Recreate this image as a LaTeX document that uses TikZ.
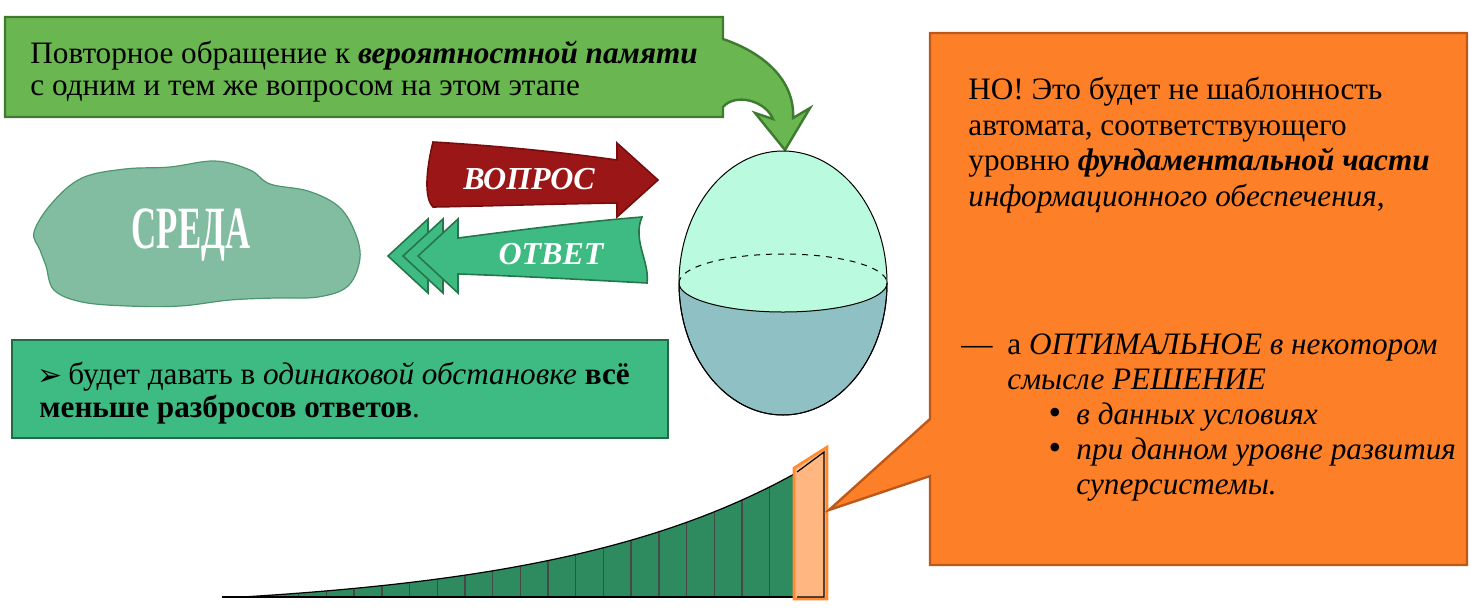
\documentclass[tikz,border=0pt]{standalone}
\usepackage{fontspec}
\setmainfont{Liberation Serif}
\newfontfamily\dingfont{DejaVu Sans}
\usetikzlibrary{positioning}
\definecolor{callgreen}{RGB}{106,182,80}
\definecolor{callgreenD}{RGB}{62,122,48}
\definecolor{askred}{RGB}{155,22,22}
\definecolor{askredD}{RGB}{118,14,14}
\definecolor{ansgreen}{RGB}{62,187,130}
\definecolor{ansgreenD}{RGB}{38,118,74}
\definecolor{cloudgreen}{RGB}{130,189,162}
\definecolor{cloudgreenD}{RGB}{78,150,110}
\definecolor{eggtop}{RGB}{186,251,224}
\definecolor{eggbot}{RGB}{143,193,196}
\definecolor{barsgreen}{RGB}{46,139,95}
\definecolor{barline}{RGB}{72,72,72}
\definecolor{noteorange}{RGB}{253,128,40}
\definecolor{noteorangeD}{RGB}{190,88,24}
\definecolor{barorange}{RGB}{255,182,128}
\definecolor{barorangeD}{RGB}{255,138,50}
\begin{document}
\begin{tikzpicture}[x=0.5pt,y=-0.5pt,
  txt/.style={anchor=base west,inner sep=0pt,font=\fontsize{15.6}{18}\selectfont},
  lbl/.style={anchor=base,inner sep=0pt,text=white,font=\fontsize{16}{16}\selectfont\bfseries\itshape},
  dot/.style={anchor=center,inner sep=0pt,font=\fontsize{18}{18}\selectfont},
  panel/.style={line width=1.2pt,line join=miter}]
\useasboundingbox (0,0) rectangle (1471,612);

\filldraw[panel,fill=callgreen,draw=callgreenD] (5,17) -- (723,17) -- (723,39)
  .. controls (770,55) and (795,85) .. (793,118) -- (810,108) -- (785,150) -- (755,113) -- (773,119)
  .. controls (765,100) and (735,93) .. (723,107) -- (723,117) -- (5,117) -- cycle;
\node[txt] (q1) at (30,63) {Повторное обращение к \textbf{\textit{вероятностной памяти}}};
\node[txt] (q2) at (30,95) {с одним и тем же вопросом на этом этапе};

\filldraw[fill=cloudgreen,draw=cloudgreenD,line width=0.6pt] plot[smooth cycle,tension=0.6] coordinates
  {(34,232) (52,203) (82,178) (125,169) (170,167) (215,161) (250,170) (270,184) (308,191)
   (338,206) (354,230) (360,258) (348,286) (318,297) (275,298) (230,300) (180,306) (128,306)
   (82,302) (54,290) (46,266) (40,250)};
\node[inner sep=0pt,anchor=base,text=white,font=\fontsize{30}{30}\selectfont\bfseries] (env) at (191,248) {\scalebox{0.58}[1]{СРЕДА}};

\filldraw[fill=askred,draw=askredD,line width=0.8pt] (433,142) .. controls (500,146) and (560,152) .. (617,160)
  -- (617,143) -- (658,180) -- (617,217) -- (617,203) .. controls (550,204) and (490,206) .. (433,207)
  .. controls (424,198) and (426,170) .. (433,142) -- cycle;
\node[lbl] (ask) at (529,189) {ВОПРОС};

\foreach \t in {388,403}
  \filldraw[fill=ansgreen,draw=ansgreenD,line width=0.8pt] (\t,256) -- (\t+40,219) -- (\t+40,293) -- cycle;
\filldraw[fill=ansgreen,draw=ansgreenD,line width=0.8pt] (418,256) -- (458,219) -- (458,238)
  .. controls (520,230) and (580,222) .. (642,217) .. controls (632,240) and (650,262) .. (647,283)
  .. controls (590,280) and (520,276) .. (458,274) -- (458,293) -- cycle;
\node[lbl] (ans) at (551,264) {ОТВЕТ};

\fill[eggtop] (783,283) ellipse [x radius=104, y radius=132];
\filldraw[fill=eggbot,draw=black,line width=0.5pt] (679,283) arc[start angle=180,end angle=0,x radius=104,y radius=132]
  arc[start angle=0,end angle=180,x radius=104,y radius=29] -- cycle;
\draw[line width=0.5pt] (783,283) ellipse [x radius=104, y radius=132];
\draw[dashed,line width=0.5pt] (679,283) arc[start angle=180,end angle=360,x radius=104,y radius=29];

\filldraw[panel,fill=ansgreen,draw=ansgreenD!90!black] (12,340) rectangle (668,438);
\node[inner sep=0pt,anchor=base west,font=\dingfont\fontsize{15}{15}\selectfont] (s0) at (37,385) {➢};
\node[txt] (s1) at (68,384) {будет давать в \textit{одинаковой обстановке} \textbf{всё}};
\node[txt] (s2) at (39,417) {\textbf{меньше разбросов ответов}.};

\fill[barsgreen] (242,597) -- plot[domain=242:796,samples=60] (\x,{597-15.2*(exp(0.004*(\x-242))-1)}) -- (796,597) -- cycle;
\foreach \i in {0,...,18}
  \draw[barline,line width=0.7pt] ({271+27.7*\i},597) -- ({271+27.7*\i},{597-15.2*(exp(0.004*(27.7*\i+29))-1)});
\draw[line width=0.6pt] plot[domain=242:796,samples=60] (\x,{597-15.2*(exp(0.004*(\x-242))-1)});
\draw[line width=1.2pt] (222,597) -- (826,597);
\filldraw[fill=barorange,draw=barorangeD,line width=1.3pt] (794,468) -- (827,447) -- (827,599) -- (794,599) -- cycle;
\draw[line width=0.6pt] (797,472) -- (824,452) -- (824,597) -- (797,597);

\filldraw[panel,fill=noteorange,draw=noteorangeD] (930,33) -- (1467,33) -- (1467,565) -- (930,565)
  -- (930,476) -- (829,510) -- (930,419) -- cycle;
\node[txt] (n1) at (968,99) {НО! Это будет не шаблонность};
\node[txt] (n2) at (968,135) {автомата, соответствующего};
\node[txt] (n3) at (968,170) {уровню \textbf{\textit{фундаментальной части}}};
\node[txt] (n4) at (968,206) {\textit{информационного обеспечения},};
\node[txt] (d1) at (961,354) {—};
\node[txt] (n5) at (1007,354) {а \textit{ОПТИМАЛЬНОЕ в некотором}};
\node[txt] (n6) at (1007,389) {\textit{смысле РЕШЕНИЕ}};
\node[dot] (b1) at (1055,416) {\textbullet};
\node[txt] (n7) at (1076,424) {\textit{в данных условиях}};
\node[dot] (b2) at (1055,451) {\textbullet};
\node[txt] (n8) at (1076,459) {\textit{при данном уровне развития}};
\node[txt] (n9) at (1076,494) {\textit{суперсистемы.}};
\end{tikzpicture}
\end{document}
